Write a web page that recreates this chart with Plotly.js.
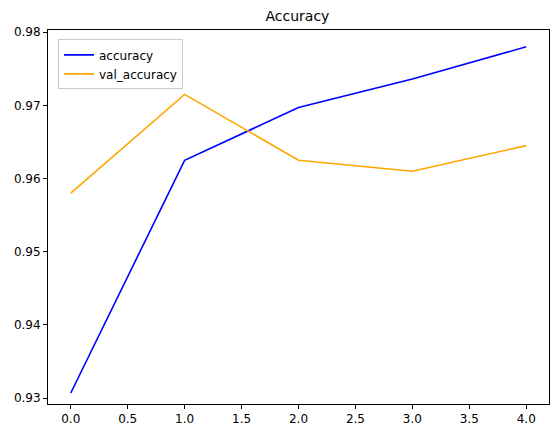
<!DOCTYPE html>
<html>
<head>
<script src="https://cdn.plot.ly/plotly-3.0.1.min.js"></script>
<style>body{margin:0}</style>
</head>
<body>
<div id="myPlot" style="width:556px;height:435px"></div>
<script>
var epochs = [0, 1, 2, 3, 4];
var accuracy = [0.9307, 0.9625, 0.9697, 0.9736, 0.9780];
var valAccuracy = [0.9580, 0.9715, 0.9625, 0.9610, 0.9645];

var axisStyle = {
  showgrid: false, zeroline: false, showline: true, mirror: true,
  linecolor: "black", linewidth: 1, ticks: "outside", ticklen: 4,
  tickcolor: "black", tickfont: { size: 12, color: "black" }
};

var data = [
  { x: epochs, y: accuracy, mode: "lines", name: "accuracy", line: { color: "blue", width: 1.6 } },
  { x: epochs, y: valAccuracy, mode: "lines", name: "val_accuracy", line: { color: "orange", width: 1.6 } }
];

var layout = {
  width: 556, height: 435,
  margin: { l: 48, r: 7, t: 30, b: 31 },
  font: { family: "DejaVu Sans", color: "black" },
  title: { text: "Accuracy", font: { size: 14 }, x: 0.535, y: 0.975, yanchor: "top", xanchor: "center" },
  xaxis: Object.assign({ range: [-0.2, 4.2], tickvals: [0, 0.5, 1, 1.5, 2, 2.5, 3, 3.5, 4], ticktext: ["0.0","0.5","1.0","1.5","2.0","2.5","3.0","3.5","4.0"] }, axisStyle),
  yaxis: Object.assign({ range: [0.9292, 0.9803], tickvals: [0.93, 0.94, 0.95, 0.96, 0.97, 0.98], ticktext: ["0.93","0.94","0.95","0.96","0.97","0.98"] }, axisStyle),
  showlegend: true,
  legend: { x: 0.02, y: 0.975, xanchor: "left", yanchor: "top", bordercolor: "#ccc", borderwidth: 1, bgcolor: "white", font: { size: 12 } },
  plot_bgcolor: "white", paper_bgcolor: "white"
};

Plotly.newPlot("myPlot", data, layout, { displayModeBar: false });
</script>
</body>
</html>
